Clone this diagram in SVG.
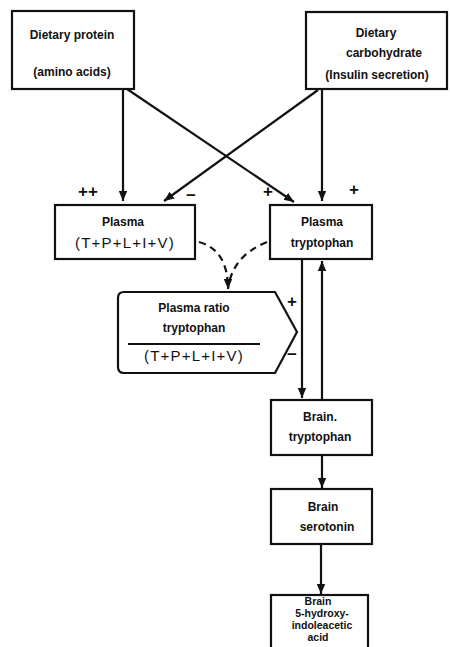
<svg xmlns="http://www.w3.org/2000/svg" width="450" height="647" viewBox="0 0 450 647">
<style>
.box{fill:#fff;stroke:#111;stroke-width:2.2}
.t{font-family:"Liberation Sans",Arial,sans-serif;font-weight:bold;font-size:12px;fill:#111;text-anchor:middle}
.t2{font-family:"Liberation Sans",Arial,sans-serif;font-weight:bold;font-size:10.5px;fill:#111;text-anchor:middle}
.f{font-family:"Liberation Sans",Arial,sans-serif;font-size:15px;fill:#111;text-anchor:middle;letter-spacing:1.2px}
.s{font-family:"Liberation Sans",Arial,sans-serif;font-weight:bold;font-size:17px;fill:#111;text-anchor:middle}
.ln{fill:none;stroke:#111;stroke-width:2.2}
.dash{fill:none;stroke:#111;stroke-width:2.2;stroke-dasharray:7 5}
</style>
<defs>
<marker id="ah" markerWidth="10" markerHeight="10" viewBox="0 0 10 10" refX="10" refY="5" orient="auto" markerUnits="userSpaceOnUse">
<path d="M0,0.8 L10,5 L0,9.2 Z" fill="#111"/>
</marker>
</defs>
<rect width="450" height="647" fill="#fff"/>
<g id="connectors">
<line class="ln" x1="123" y1="89" x2="123" y2="201" marker-end="url(#ah)"/>
<line class="ln" x1="127" y1="89" x2="294" y2="202" marker-end="url(#ah)"/>
<line class="ln" x1="318" y1="90" x2="164" y2="201" marker-end="url(#ah)"/>
<line class="ln" x1="322" y1="89" x2="322" y2="201" marker-end="url(#ah)"/>
<path class="dash" d="M199,242 Q228,250 228,289" marker-end="url(#ah)"/>
<path class="dash" d="M267,242 Q232,256 228,289"/>
<line class="ln" x1="302" y1="260" x2="302" y2="398" marker-end="url(#ah)"/>
<line class="ln" x1="322" y1="400" x2="322" y2="261" marker-end="url(#ah)"/>
<line class="ln" x1="322" y1="455" x2="322" y2="488" marker-end="url(#ah)"/>
<line class="ln" x1="321" y1="544" x2="321" y2="594" marker-end="url(#ah)"/>
<text class="s" x="88" y="197">++</text>
<text class="s" x="191" y="201">−</text>
<text class="s" x="268" y="197">+</text>
<text class="s" x="354" y="195">+</text>
<text class="s" x="292" y="307">+</text>
<text class="s" x="292" y="360">−</text>
</g>
<g id="dietary-protein">
<rect class="box" x="12" y="11" width="122" height="78"/>
<text class="t" x="72" y="39">Dietary protein</text>
<text class="t" x="72" y="76">(amino acids)</text>
</g>
<g id="dietary-carbohydrate">
<rect class="box" x="306" y="12" width="141" height="77"/>
<text class="t" x="376" y="37">Dietary</text>
<text class="t" x="384" y="57">carbohydrate</text>
<text class="t" x="377" y="79">(Insulin secretion)</text>
</g>
<g id="plasma-lnaa">
<rect class="box" x="55" y="205" width="140" height="54"/>
<text class="t" x="123" y="226">Plasma</text>
<text class="f" x="125" y="248">(T+P+L+I+V)</text>
</g>
<g id="plasma-tryptophan">
<rect class="box" x="270" y="205" width="102" height="54"/>
<text class="t" x="322" y="226">Plasma</text>
<text class="t" x="322" y="247">tryptophan</text>
</g>
<g id="plasma-ratio">
<path class="box" d="M124,292 L275,292 L297,332 L275,373 L124,373 Q118,373 118,367 L118,298 Q118,292 124,292 Z"/>
<text class="t" x="194" y="312">Plasma ratio</text>
<text class="t" x="194" y="332">tryptophan</text>
<line class="ln" x1="128" y1="344" x2="260" y2="344" stroke-width="1.6"/>
<text class="f" x="194" y="361">(T+P+L+I+V)</text>
</g>
<g id="brain-tryptophan">
<rect class="box" x="271" y="400" width="101" height="55"/>
<text class="t" x="320" y="421">Brain.</text>
<text class="t" x="320" y="441">tryptophan</text>
</g>
<g id="brain-serotonin">
<rect class="box" x="271" y="489" width="101" height="55"/>
<text class="t" x="323" y="511">Brain</text>
<text class="t" x="327" y="531">serotonin</text>
</g>
<g id="brain-5hiaa">
<rect class="box" x="271" y="595" width="97" height="60"/>
<text class="t2" x="318" y="605">Brain</text>
<text class="t2" x="322" y="617">5-hydroxy-</text>
<text class="t2" x="322" y="629">indoleacetic</text>
<text class="t2" x="318" y="641">acid</text>
</g>
</svg>
